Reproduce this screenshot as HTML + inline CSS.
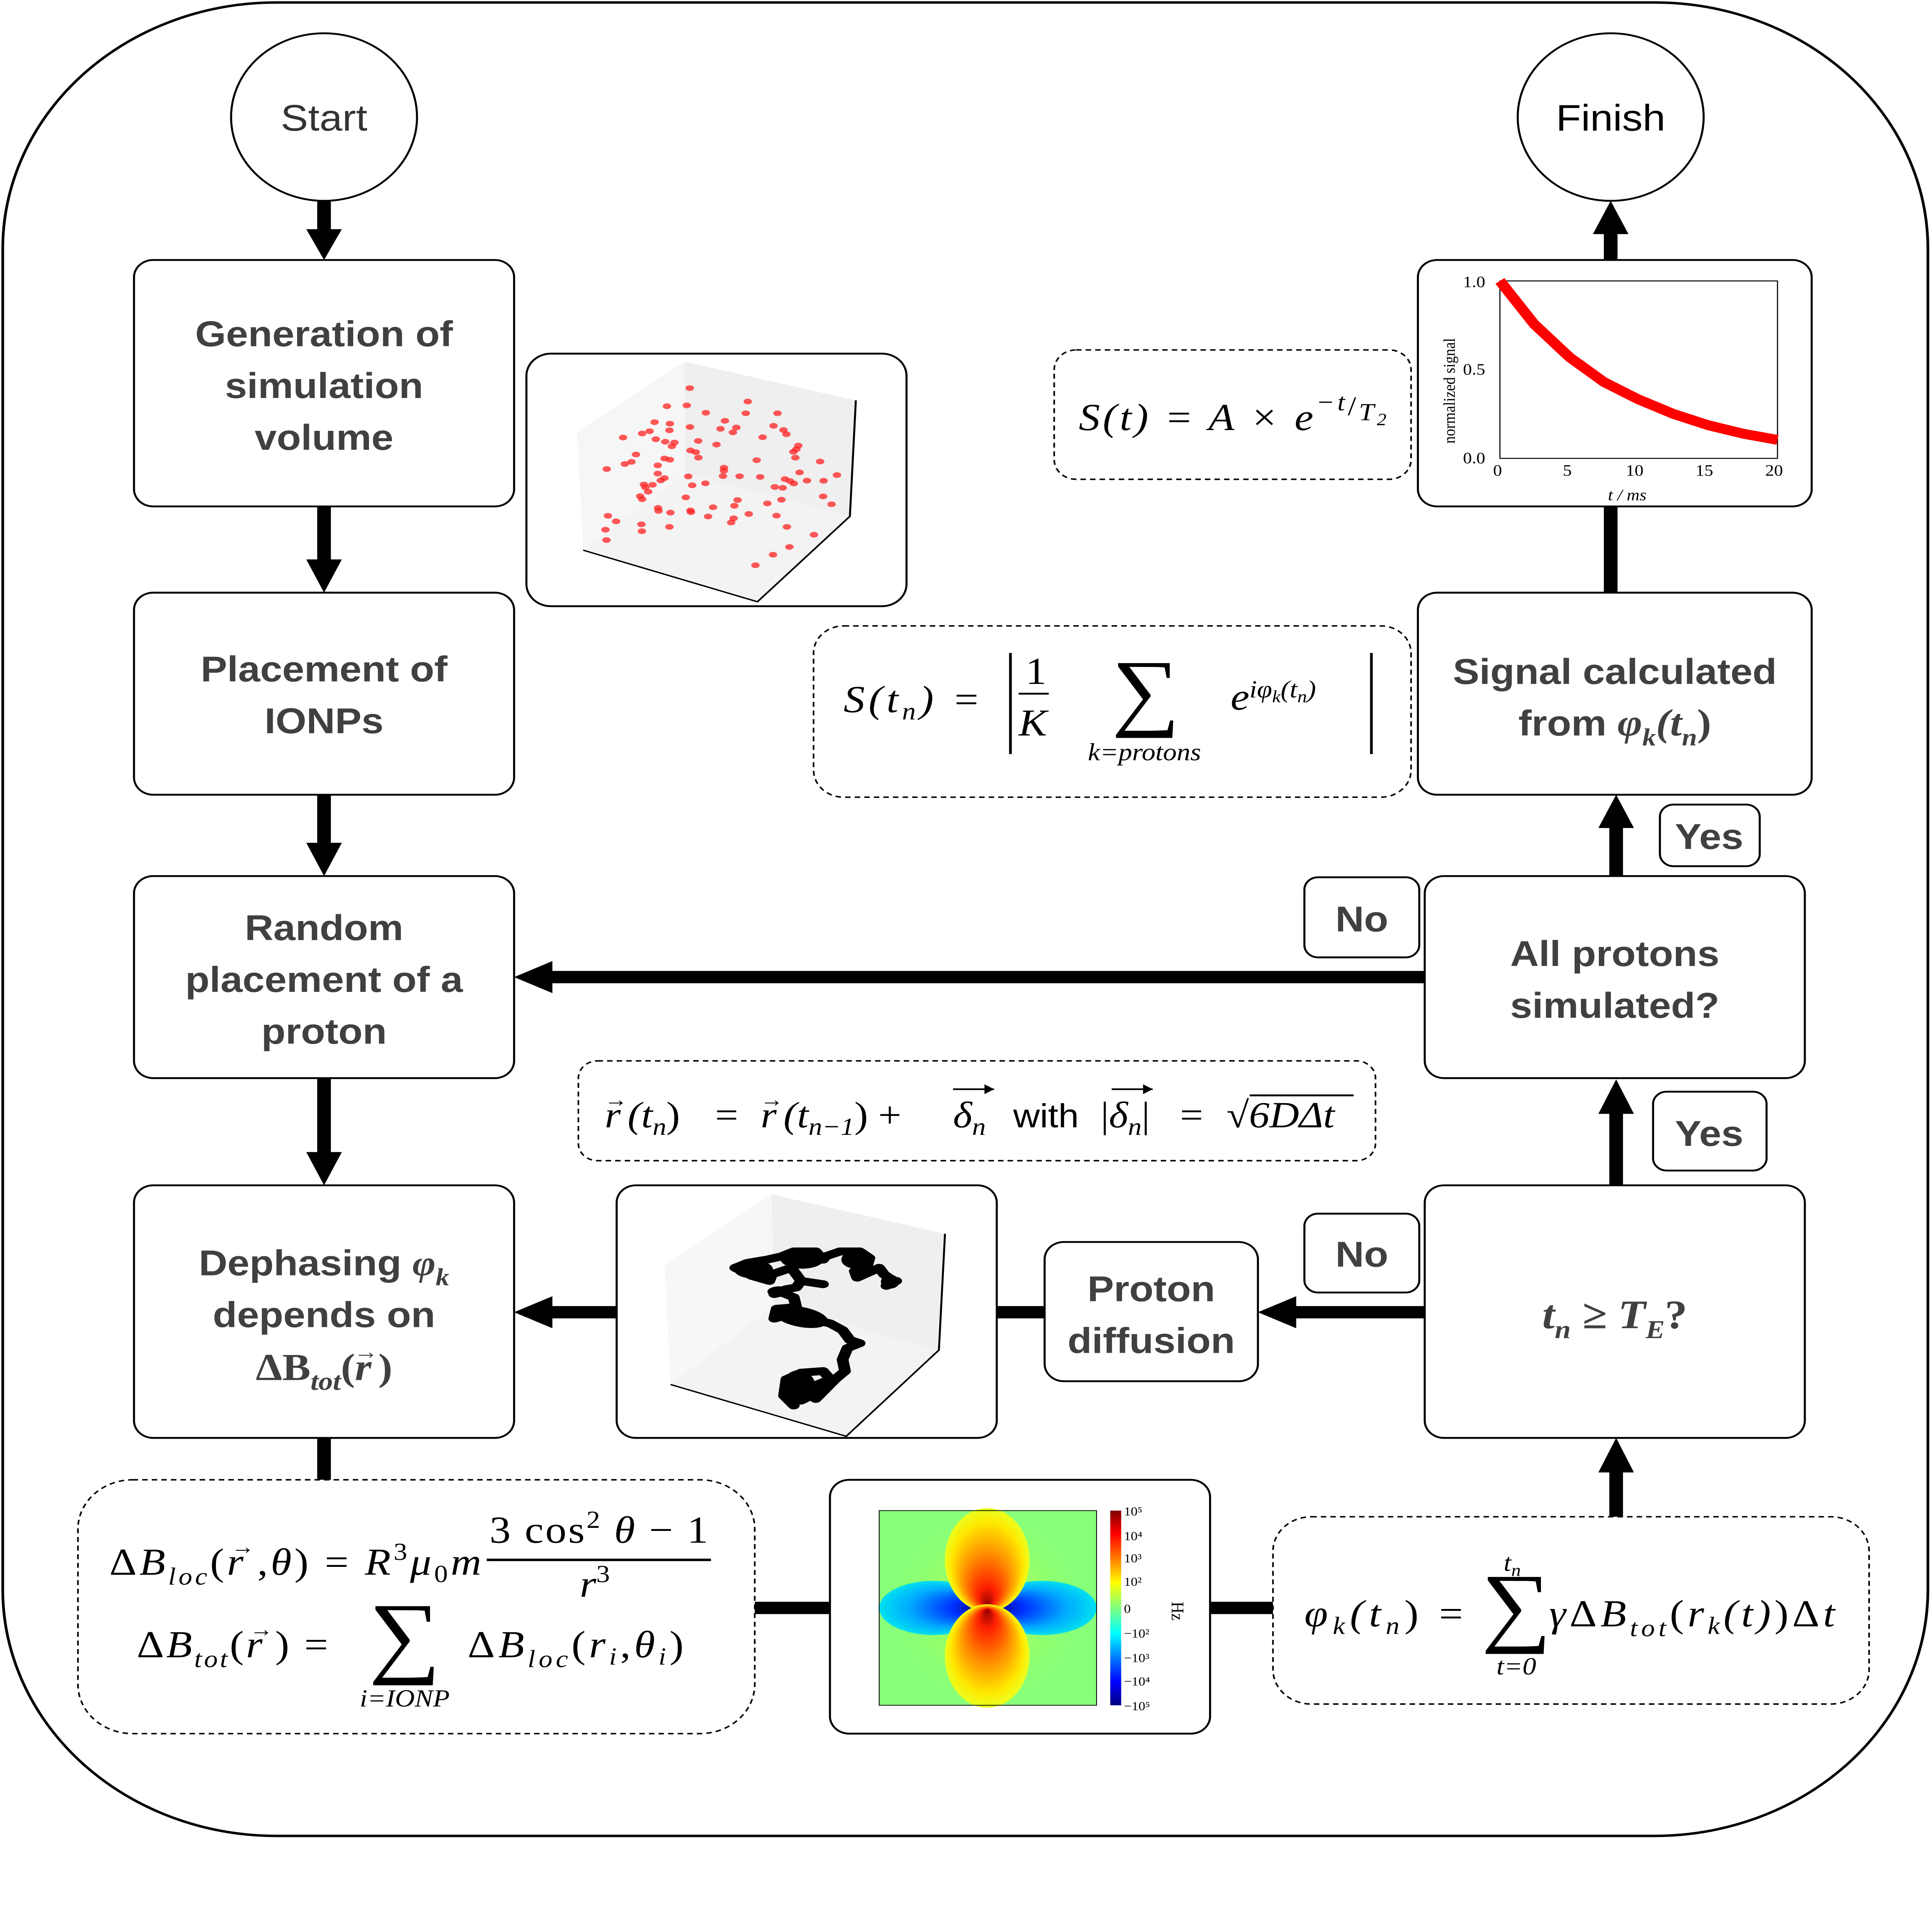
<!DOCTYPE html>
<html><head><meta charset="utf-8">
<style>
html,body{margin:0;padding:0;background:#fff;overflow:hidden;width:100vw;height:100vh;}
svg{display:block;width:100vw;height:100vh;}
.b{font-family:"Liberation Sans",sans-serif;font-weight:bold;fill:#404040;font-size:29px;text-anchor:middle;}
.m{font-family:"Liberation Serif",serif;font-style:italic;fill:#000;font-size:31px;}
.r{font-family:"Liberation Serif",serif;fill:#000;}
</style></head><body>
<svg viewBox="0 0 1413 1568" preserveAspectRatio="none" xmlns="http://www.w3.org/2000/svg">
<defs>
<radialGradient id="lobe" cx="50%" cy="50%" r="50%" fx="50%" fy="95%">
<stop offset="0" stop-color="#900000"/><stop offset="0.2" stop-color="#ff2000"/><stop offset="0.55" stop-color="#ff9000"/><stop offset="0.85" stop-color="#ffe800"/><stop offset="1" stop-color="#e8ff20"/>
</radialGradient>
<radialGradient id="lobe2" cx="50%" cy="50%" r="50%" fx="50%" fy="5%">
<stop offset="0" stop-color="#900000"/><stop offset="0.2" stop-color="#ff2000"/><stop offset="0.55" stop-color="#ff9000"/><stop offset="0.85" stop-color="#ffe800"/><stop offset="1" stop-color="#e8ff20"/>
</radialGradient>
<radialGradient id="lobebL" cx="50%" cy="50%" r="50%" fx="95%" fy="50%">
<stop offset="0" stop-color="#000080"/><stop offset="0.3" stop-color="#0030ff"/><stop offset="0.7" stop-color="#00a8ff"/><stop offset="1" stop-color="#00e0f0"/>
</radialGradient>
<radialGradient id="lobebR" cx="50%" cy="50%" r="50%" fx="5%" fy="50%">
<stop offset="0" stop-color="#000080"/><stop offset="0.3" stop-color="#0030ff"/><stop offset="0.7" stop-color="#00a8ff"/><stop offset="1" stop-color="#00e0f0"/>
</radialGradient>
<radialGradient id="halo" cx="50%" cy="50%" r="50%">
<stop offset="0" stop-color="#c8ff30"/><stop offset="1" stop-color="#90ff70" stop-opacity="0"/>
</radialGradient>
<linearGradient id="cbar" x1="0" y1="0" x2="0" y2="1">
<stop offset="0" stop-color="#800000"/><stop offset="0.12" stop-color="#ff0000"/><stop offset="0.25" stop-color="#ff8000"/><stop offset="0.37" stop-color="#ffff00"/><stop offset="0.5" stop-color="#80ff80"/><stop offset="0.63" stop-color="#00ffff"/><stop offset="0.75" stop-color="#0080ff"/><stop offset="0.88" stop-color="#0000ff"/><stop offset="1" stop-color="#000080"/>
</linearGradient>
</defs>
<rect x="2" y="2" width="1408" height="1488" rx="200" fill="#fff" stroke="#000" stroke-width="2"/>

<g stroke="#000" stroke-width="10" fill="none">
<line x1="237" y1="163" x2="237" y2="188"/>
<line x1="237" y1="411" x2="237" y2="455"/>
<line x1="237" y1="645" x2="237" y2="685"/>
<line x1="237" y1="875" x2="237" y2="936"/>
<line x1="237" y1="1167" x2="237" y2="1201"/>
<line x1="552" y1="1305" x2="607" y2="1305"/>
<line x1="885" y1="1305" x2="931" y2="1305"/>
<line x1="1182" y1="1231" x2="1182" y2="1193"/>
<line x1="1182" y1="962" x2="1182" y2="902"/>
<line x1="1182" y1="711" x2="1182" y2="670"/>
<line x1="1178" y1="481" x2="1178" y2="411"/>
<line x1="1178" y1="211" x2="1178" y2="188"/>
<line x1="1042" y1="793" x2="402" y2="793"/>
<line x1="1042" y1="1065" x2="946" y2="1065"/>
<line x1="729" y1="1065" x2="764" y2="1065"/>
<line x1="451" y1="1065" x2="402" y2="1065"/>
</g>
<g fill="#000">
<polygon points="224,186 250,186 237,211"/>
<polygon points="224,454 250,454 237,481"/>
<polygon points="224,684 250,684 237,711"/>
<polygon points="224,935 250,935 237,962"/>
<polygon points="1169,1195 1195,1195 1182,1167"/>
<polygon points="1169,904 1195,904 1182,876"/>
<polygon points="1169,672 1195,672 1182,645"/>
<polygon points="1165,190 1191,190 1178,163"/>
<polygon points="404,780 404,806 376,793"/>
<polygon points="948,1052 948,1078 920,1065"/>
<polygon points="404,1052 404,1078 376,1065"/>
</g>

<circle cx="237" cy="95" r="68" fill="#fff" stroke="#000" stroke-width="1.5"/>
<text x="237" y="106" class="b" style="font-weight:normal;font-size:30px;fill:#333">Start</text>
<circle cx="1178" cy="95" r="68" fill="#fff" stroke="#000" stroke-width="1.5"/>
<text x="1178" y="106" class="b" style="font-weight:normal;font-size:30px;fill:#000">Finish</text>

<g fill="#fff" stroke="#000" stroke-width="1.5">
<rect x="98" y="211" width="278" height="200" rx="14"/>
<rect x="385" y="287" width="278" height="205" rx="18"/>
<rect x="98" y="481" width="278" height="164" rx="14"/>
<rect x="98" y="711" width="278" height="164" rx="14"/>
<rect x="98" y="962" width="278" height="205" rx="14"/>
<rect x="451" y="962" width="278" height="205" rx="14"/>
<rect x="764" y="1008" width="156" height="113" rx="14"/>
<rect x="1042" y="962" width="278" height="205" rx="14"/>
<rect x="1042" y="711" width="278" height="164" rx="14"/>
<rect x="1037" y="481" width="288" height="164" rx="14"/>
<rect x="1037" y="211" width="288" height="200" rx="14"/>
<rect x="607" y="1201" width="278" height="206" rx="14"/>
<rect x="954" y="712" width="84" height="65" rx="10"/>
<rect x="1214" y="653" width="73" height="50" rx="10"/>
<rect x="1209" y="886" width="83" height="64" rx="10"/>
<rect x="954" y="985" width="84" height="64" rx="10"/>
</g>
<g fill="#fff" stroke="#000" stroke-width="1.2" stroke-dasharray="4,3">
<rect x="771" y="284" width="261" height="105" rx="16"/>
<rect x="595" y="508" width="437" height="139" rx="22"/>
<rect x="423" y="861" width="583" height="81" rx="14"/>
<rect x="57" y="1201" width="495" height="206" rx="40"/>
<rect x="931" y="1231" width="436" height="152" rx="28"/>
</g>

<text class="b" x="237" y="281">Generation of</text>
<text class="b" x="237" y="323">simulation</text>
<text class="b" x="237" y="365">volume</text>
<text class="b" x="237" y="553">Placement of</text>
<text class="b" x="237" y="595">IONPs</text>
<text class="b" x="237" y="763">Random</text>
<text class="b" x="237" y="805">placement of a</text>
<text class="b" x="237" y="847">proton</text>
<text class="b" x="237" y="1035">Dephasing <tspan font-family="Liberation Serif" font-style="italic">φ<tspan font-size="20" dy="8">k</tspan></tspan></text>
<text class="b" x="237" y="1077">depends on</text>
<text class="b" x="237" y="1120" style="font-family:'Liberation Serif',serif;font-size:31px">ΔB<tspan font-size="21" dy="8" font-style="italic">tot</tspan><tspan dy="-8">(</tspan><tspan font-style="italic">r</tspan><tspan font-size="18" dx="-13" dy="-17">→</tspan><tspan dy="17">)</tspan></text>
<text class="b" x="842" y="1056">Proton</text>
<text class="b" x="842" y="1098">diffusion</text>
<text class="b" x="1181" y="1078" style="font-family:'Liberation Serif',serif;font-style:italic;font-size:33px">t<tspan font-size="21" dy="8">n</tspan><tspan dy="-8"> ≥ T</tspan><tspan font-size="21" dy="8">E</tspan><tspan dy="-8" font-style="normal">?</tspan></text>
<text class="b" x="1181" y="784">All protons</text>
<text class="b" x="1181" y="826">simulated?</text>
<text class="b" x="1181" y="555">Signal calculated</text>
<text class="b" x="1181" y="597">from <tspan font-family="Liberation Serif" font-style="italic" font-size="31">φ<tspan font-size="20" dy="8">k</tspan><tspan dy="-8">(t</tspan><tspan font-size="20" dy="8">n</tspan><tspan dy="-8" font-style="normal">)</tspan></tspan></text>
<text class="b" x="996" y="756">No</text>
<text class="b" x="1250" y="689">Yes</text>
<text class="b" x="1250" y="930">Yes</text>
<text class="b" x="996" y="1028">No</text>

<text class="m" x="789" y="349" textLength="225" lengthAdjust="spacing">S(t) = A × e<tspan font-size="20" dy="-16">−t</tspan><tspan font-size="22" dy="4" font-style="normal">/</tspan><tspan font-size="20" dy="4">T</tspan><tspan font-size="14" dy="4">2</tspan></text>

<text class="m" x="617" y="578" textLength="100" lengthAdjust="spacing">S(t<tspan font-size="20" dy="6">n</tspan><tspan dy="-6">) =</tspan></text>
<line x1="739" y1="530" x2="739" y2="612" stroke="#000" stroke-width="2"/>
<line x1="1003" y1="530" x2="1003" y2="612" stroke="#000" stroke-width="2"/>
<text class="m" x="750" y="555" style="font-style:normal">1</text>
<line x1="745" y1="563" x2="767" y2="563" stroke="#000" stroke-width="1.5"/>
<text class="m" x="745" y="597">K</text>
<text class="r" x="838" y="584" style="font-size:70px;text-anchor:middle">∑</text>
<text class="m" x="837" y="617" style="font-size:20px;text-anchor:middle">k=protons</text>
<text class="m" x="900" y="576">e<tspan font-size="20" dy="-10">iφ</tspan><tspan font-size="14" dy="4">k</tspan><tspan font-size="20" dy="-4">(t</tspan><tspan font-size="14" dy="4">n</tspan><tspan font-size="20" dy="-4">)</tspan></text>

<g class="m" style="font-size:30px">
<text x="442" y="915">r<tspan font-size="17" dx="-12" dy="-17">→</tspan><tspan dy="17">(t</tspan><tspan font-size="20" dy="6">n</tspan><tspan dy="-6" font-style="normal">)</tspan></text>
<text x="523" y="915" style="font-style:normal">=</text>
<text x="556" y="915">r<tspan font-size="17" dx="-12" dy="-17">→</tspan><tspan dy="17">(t</tspan><tspan font-size="20" dy="6">n−1</tspan><tspan dy="-6" font-style="normal">) +</tspan></text>
<text x="697" y="915">δ<tspan font-size="20" dy="6">n</tspan></text>
<line x1="697" y1="884" x2="727" y2="884" stroke="#000" stroke-width="1.3"/>
<polygon points="727,884 720,880 720,888" fill="#000"/>
<text x="741" y="915" style="font-family:'Liberation Sans',sans-serif;font-style:normal;font-size:27px">with</text>
<text x="805" y="915" style="font-style:normal">|<tspan font-style="italic">δ</tspan><tspan font-size="20" dy="6" font-style="italic">n</tspan><tspan dy="-6">|</tspan></text>
<line x1="813" y1="884" x2="843" y2="884" stroke="#000" stroke-width="1.3"/>
<polygon points="843,884 836,880 836,888" fill="#000"/>
<text x="863" y="915" style="font-style:normal">=</text>
<text x="897" y="915" style="font-style:normal">√<tspan font-style="italic">6DΔt</tspan></text>
<line x1="914" y1="889" x2="990" y2="889" stroke="#000" stroke-width="1.5"/>
</g>

<text class="m" x="80" y="1278" style="font-style:normal" textLength="272" lengthAdjust="spacing">Δ<tspan font-style="italic">B</tspan><tspan font-size="20" dy="8" font-style="italic">loc</tspan><tspan dy="-8">(</tspan><tspan font-style="italic">r</tspan><tspan font-size="17" dx="-11" dy="-17">→</tspan><tspan dy="17">,</tspan><tspan font-style="italic">θ</tspan>) = <tspan font-style="italic">R</tspan><tspan font-size="20" dy="-12">3</tspan><tspan dy="12" font-style="italic">μ</tspan><tspan font-size="20" dy="6">0</tspan><tspan dy="-6" font-style="italic">m</tspan></text>
<text class="m" x="358" y="1252" style="font-style:normal" textLength="160" lengthAdjust="spacing">3 cos<tspan font-size="20" dy="-12">2</tspan><tspan dy="12" font-style="italic"> θ</tspan>  − 1</text>
<line x1="356" y1="1266" x2="520" y2="1266" stroke="#000" stroke-width="2"/>
<text class="m" x="424" y="1296">r<tspan font-size="20" dy="-12" font-style="normal">3</tspan></text>
<text class="m" x="100" y="1345" style="font-style:normal" textLength="140" lengthAdjust="spacing">Δ<tspan font-style="italic">B</tspan><tspan font-size="20" dy="8" font-style="italic">tot</tspan><tspan dy="-8">(</tspan><tspan font-style="italic">r</tspan><tspan font-size="17" dx="-11" dy="-17">→</tspan><tspan dy="17">) =</tspan></text>
<text class="r" x="296" y="1352" style="font-size:74px;text-anchor:middle">∑</text>
<text class="m" x="296" y="1385" style="font-size:20px;text-anchor:middle">i=IONP</text>
<text class="m" x="342" y="1345" style="font-style:normal" textLength="158" lengthAdjust="spacing">Δ<tspan font-style="italic">B</tspan><tspan font-size="20" dy="8" font-style="italic">loc</tspan><tspan dy="-8">(</tspan><tspan font-style="italic">r</tspan><tspan font-size="20" dy="6" font-style="italic">i</tspan><tspan dy="-6">,</tspan><tspan font-style="italic">θ</tspan><tspan font-size="20" dy="6" font-style="italic">i</tspan><tspan dy="-6">)</tspan></text>

<text class="m" x="954" y="1320" textLength="116" lengthAdjust="spacing">φ<tspan font-size="20" dy="6">k</tspan><tspan dy="-6">(t</tspan><tspan font-size="20" dy="6">n</tspan><tspan dy="-6" font-style="normal">) =</tspan></text>
<text class="r" x="1109" y="1327" style="font-size:72px;text-anchor:middle">∑</text>
<text class="m" x="1106" y="1275" style="font-size:20px;text-anchor:middle">t<tspan font-size="14" dy="4">n</tspan></text>
<text class="m" x="1109" y="1359" style="font-size:20px;text-anchor:middle">t=0</text>
<text class="m" x="1133" y="1320" textLength="209" lengthAdjust="spacing">γ<tspan font-style="normal">Δ</tspan>B<tspan font-size="20" dy="8">tot</tspan><tspan dy="-8" font-style="normal">(</tspan>r<tspan font-size="20" dy="6">k</tspan><tspan dy="-6">(t)</tspan><tspan font-style="normal">)Δ</tspan>t</text>

<rect x="1097" y="228" width="203" height="144" fill="#fff" stroke="#000" stroke-width="0.8"/>
<polyline points="1097,228 1122,263 1148,290 1173,310 1198,324 1224,336 1249,345 1275,352 1300,357" fill="none" stroke="#f00" stroke-width="8" stroke-linejoin="round"/>
<g class="r" font-size="13">
<text x="1070" y="233">1.0</text><text x="1070" y="304">0.5</text><text x="1070" y="376">0.0</text>
<text x="1092" y="386">0</text><text x="1143" y="386">5</text><text x="1189" y="386">10</text><text x="1240" y="386">15</text><text x="1291" y="386">20</text>
<text x="1176" y="406" font-style="italic">t / ms</text>
<text transform="translate(1064,360) rotate(-90)" font-size="12">normalized signal</text>
</g>

<g transform="translate(379,284.4) scale(0.1813,0.136)">
<polygon points="238,487 670,67 675,735 262,1192" fill="#f6f6f6"/>
<polygon points="670,67 1362,298 1338,990 675,735" fill="#efefef"/>
<polygon points="262,1192 675,735 1338,990 965,1500" fill="#f3f3f3"/>
<polyline points="262,1192 965,1500 1338,990 1362,298" fill="none" stroke="#000" stroke-width="8"/>
<g fill="#f22" fill-opacity="0.75">
<circle cx="692" cy="225" r="17"/><circle cx="600" cy="333" r="17"/><circle cx="680" cy="328" r="17"/><circle cx="757" cy="372" r="17"/><circle cx="926" cy="305" r="17"/><circle cx="918" cy="375" r="17"/><circle cx="1046" cy="375" r="17"/><circle cx="550" cy="428" r="17"/><circle cx="612" cy="437" r="17"/><circle cx="693" cy="457" r="17"/><circle cx="834" cy="420" r="17"/><circle cx="500" cy="496" r="17"/><circle cx="530" cy="482" r="17"/><circle cx="610" cy="477" r="17"/><circle cx="816" cy="468" r="17"/><circle cx="880" cy="460" r="17"/><circle cx="866" cy="489" r="17"/><circle cx="1030" cy="450" r="17"/><circle cx="1070" cy="475" r="17"/><circle cx="1082" cy="500" r="17"/><circle cx="423" cy="520" r="17"/><circle cx="555" cy="530" r="17"/><circle cx="593" cy="545" r="17"/><circle cx="630" cy="550" r="17"/><circle cx="620" cy="572" r="17"/><circle cx="726" cy="540" r="17"/><circle cx="800" cy="562" r="17"/><circle cx="986" cy="518" r="17"/><circle cx="1130" cy="568" r="17"/><circle cx="1122" cy="590" r="17"/><circle cx="1110" cy="605" r="17"/><circle cx="695" cy="597" r="17"/><circle cx="716" cy="607" r="17"/><circle cx="727" cy="640" r="17"/><circle cx="475" cy="621" r="17"/><circle cx="457" cy="665" r="17"/><circle cx="430" cy="678" r="17"/><circle cx="590" cy="645" r="17"/><circle cx="612" cy="652" r="17"/><circle cx="563" cy="686" r="17"/><circle cx="962" cy="655" r="17"/><circle cx="1118" cy="640" r="17"/><circle cx="1218" cy="663" r="17"/><circle cx="357" cy="708" r="17"/><circle cx="830" cy="700" r="17"/><circle cx="830" cy="718" r="17"/><circle cx="563" cy="735" r="17"/><circle cx="590" cy="762" r="17"/><circle cx="575" cy="776" r="17"/><circle cx="686" cy="752" r="17"/><circle cx="826" cy="750" r="17"/><circle cx="893" cy="751" r="17"/><circle cx="976" cy="755" r="17"/><circle cx="1135" cy="728" r="17"/><circle cx="1286" cy="744" r="17"/><circle cx="1076" cy="768" r="17"/><circle cx="1097" cy="780" r="17"/><circle cx="1112" cy="794" r="17"/><circle cx="1165" cy="777" r="17"/><circle cx="1232" cy="778" r="17"/><circle cx="507" cy="800" r="17"/><circle cx="542" cy="802" r="17"/><circle cx="513" cy="817" r="17"/><circle cx="524" cy="843" r="17"/><circle cx="702" cy="805" r="17"/><circle cx="755" cy="793" r="17"/><circle cx="1035" cy="815" r="17"/><circle cx="1067" cy="820" r="17"/><circle cx="492" cy="870" r="17"/><circle cx="500" cy="888" r="17"/><circle cx="676" cy="877" r="17"/><circle cx="885" cy="893" r="17"/><circle cx="1005" cy="913" r="17"/><circle cx="1062" cy="891" r="17"/><circle cx="1230" cy="871" r="17"/><circle cx="1264" cy="918" r="17"/><circle cx="564" cy="940" r="17"/><circle cx="566" cy="958" r="17"/><circle cx="614" cy="968" r="17"/><circle cx="695" cy="955" r="17"/><circle cx="697" cy="965" r="17"/><circle cx="786" cy="936" r="17"/><circle cx="872" cy="927" r="17"/><circle cx="930" cy="976" r="17"/><circle cx="869" cy="1002" r="17"/><circle cx="859" cy="1027" r="17"/><circle cx="766" cy="991" r="17"/><circle cx="1042" cy="986" r="17"/><circle cx="362" cy="987" r="17"/><circle cx="395" cy="1020" r="17"/><circle cx="352" cy="1070" r="17"/><circle cx="497" cy="1038" r="17"/><circle cx="499" cy="1079" r="17"/><circle cx="610" cy="1053" r="17"/><circle cx="1084" cy="1053" r="17"/><circle cx="1193" cy="1100" r="17"/><circle cx="356" cy="1132" r="17"/><circle cx="1094" cy="1173" r="17"/><circle cx="1028" cy="1219" r="17"/><circle cx="957" cy="1282" r="17"/>
</g>
</g>

<g transform="translate(450.3,959.8) scale(0.1784,0.133)">
<polygon points="200,505 640,72 648,755 225,1230" fill="#f7f7f7"/>
<polygon points="640,72 1350,312 1325,1022 648,755" fill="#efefef"/>
<polygon points="225,1230 648,755 1325,1022 945,1548" fill="#f3f3f3"/>
<polyline points="225,1232 945,1548 1325,1022 1350,312" fill="none" stroke="#000" stroke-width="8"/>
<path d="M730,1360 L690,1300 L700,1200 L760,1160 L850,1150 L880,1200 L830,1230 L800,1300 L760,1330 L720,1280 L780,1250 L840,1280 L820,1320 L860,1260 L900,1200 L940,1150 L930,1080 L950,1010 L1000,980 L960,960 L930,900 L880,860 L800,830 L700,810 L650,830 L660,770 L740,760 L730,700 L680,670 L650,680 L700,650 L740,640 L760,600 L850,620 L760,600 L740,560 L720,520 L640,560 L630,600 L560,570 L490,520 L540,490 L620,470 L680,450 L730,420 L820,420 L850,470 L860,450 L920,420 L1000,420 L1040,460 L1030,510 L980,540 L990,580 L1050,540 L1080,520 L1100,560 L1130,590 L1110,630 L1150,600" fill="none" stroke="#000" stroke-width="48" stroke-linejoin="round" stroke-linecap="round"/>
<g fill="#000">
<ellipse cx="565" cy="530" rx="80" ry="55"/>
<ellipse cx="765" cy="465" rx="90" ry="60"/>
<ellipse cx="760" cy="820" rx="115" ry="60" transform="rotate(18 760 820)"/>
<ellipse cx="750" cy="1250" rx="70" ry="105"/>
<ellipse cx="985" cy="470" rx="60" ry="55"/>
<ellipse cx="1125" cy="605" rx="38" ry="42"/>
<ellipse cx="670" cy="665" rx="48" ry="32"/>
</g>
</g>

<g transform="translate(643,1226)">
<rect width="159" height="158" fill="#88ff78"/>
<ellipse cx="79" cy="79" rx="70" ry="79" fill="url(#halo)"/>
<ellipse cx="40" cy="79" rx="40" ry="22" fill="url(#lobebL)"/>
<ellipse cx="119" cy="79" rx="40" ry="22" fill="url(#lobebR)"/>
<ellipse cx="79" cy="40" rx="31" ry="42" fill="url(#lobe)"/>
<ellipse cx="79" cy="118" rx="31" ry="42" fill="url(#lobe2)"/>
</g>
<rect x="643" y="1226" width="159" height="158" fill="none" stroke="#000" stroke-width="0.6"/>
<rect x="812" y="1226" width="8" height="158" fill="url(#cbar)"/>
<g class="r" font-size="10">
<text x="822" y="1230">10⁵</text><text x="822" y="1250">10⁴</text><text x="822" y="1268">10³</text><text x="822" y="1287">10²</text><text x="822" y="1309">0</text>
<text x="822" y="1329">−10²</text><text x="822" y="1349">−10³</text><text x="822" y="1368">−10⁴</text><text x="822" y="1388">−10⁵</text>
<text transform="translate(857,1300) rotate(90)" font-size="13">Hz</text>
</g>
</svg>
</body></html>
